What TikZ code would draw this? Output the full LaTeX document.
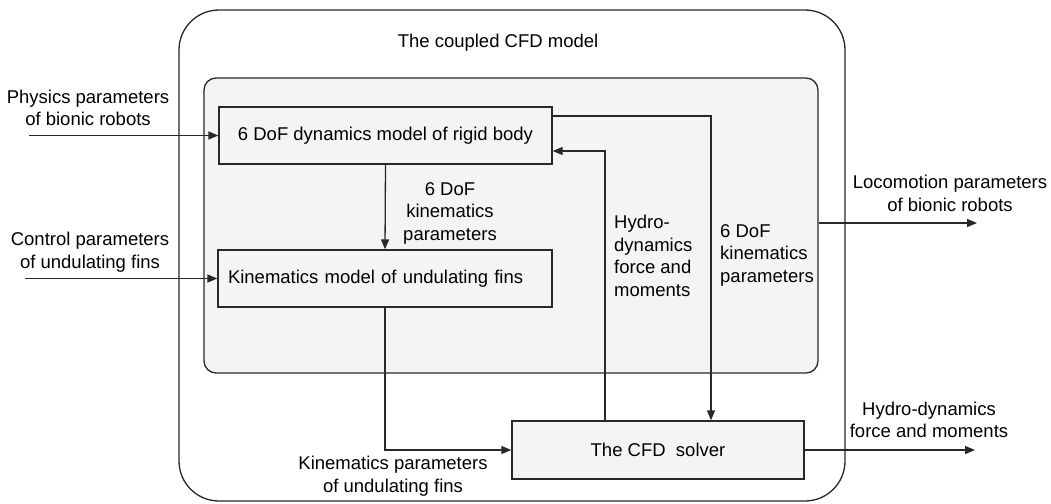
\documentclass[tikz,border=0pt]{standalone}
\usepackage{fontspec}
\setmainfont{Liberation Sans}
\usetikzlibrary{arrows.meta}
\definecolor{boxfill}{RGB}{244,244,244}
\definecolor{linec}{RGB}{40,40,40}
\begin{document}
\begin{tikzpicture}[x=1pt,y=-1pt,
  every node/.style={font=\fontsize{18.5}{22.5}\selectfont, inner sep=0pt},
  frame/.style={draw=linec, line width=1.3pt, rounded corners=40pt},
  group/.style={draw=linec, line width=1.3pt, fill=boxfill, rounded corners=12pt},
  block/.style={draw=linec, line width=1.3pt, fill=boxfill},
  lbl/.style={align=center},
  lbll/.style={align=left},
  arr/.style={draw=linec, line width=1.3pt, -{Triangle[length=10pt,width=8pt]}},
  ln/.style={draw=linec, line width=1.3pt}]
\useasboundingbox (0,0) rectangle (1051,503);
% outer frame and inner group
\node[frame, minimum width=666pt, minimum height=491pt] (outer) at (512,255.5) {};
\node[group, minimum width=614pt, minimum height=295pt] (inner) at (511,225.5) {};
\node (title) at (498,43) {The coupled CFD model};
% blocks
\node[block, minimum width=333pt, minimum height=57pt] (dyn) at (385.5,135.5) {6 DoF dynamics model of rigid body};
\node[block, text width=314pt, inner xsep=10pt, minimum height=57pt, align=left] (kin) at (385,278.5) {Kinematics model of undulating fins};
\node[block, minimum width=292pt, minimum height=58pt] (cfd) at (658,450) {The CFD\ \ solver};
% external labels
\node[lbl] (lphys) at (88,108) {Physics parameters\\ of bionic robots};
\node[lbl] (lctrl) at (90,252) {Control parameters\\ of undulating fins};
\node[lbl] (lk1) at (450,213) {6 DoF\\kinematics\\parameters};
\node[lbll, anchor=west] (lhyd) at (614,256) {Hydro-\\dynamics\\force and\\moments};
\node[lbll, anchor=west] (lk2) at (720,255) {6 DoF\\kinematics\\parameters};
\node[lbl] (lloc) at (950,193.5) {Locomotion parameters\\ of bionic robots};
\node[lbl] (lkp) at (393,476) {Kinematics parameters\\ of undulating fins};
\node[lbl] (lhout) at (929,420) {Hydro-dynamics\\force and moments};
% coordinates
\coordinate (physin) at (29,135.5);
\coordinate (ctrlin) at (25,278.5);
\coordinate (hx) at (605,151);
\coordinate (kx) at (711,116);
\coordinate (locend) at (977,223);
\coordinate (hend) at (975,450);
% connectors
\draw[arr] (physin) -- (dyn.west);
\draw[arr] (ctrlin) -- (kin.west);
\draw[arr] (dyn.south) -- (kin.north);
\draw[arr] (kin.south) |- (cfd.west);
\draw[arr] (hx |- cfd.north) -- (hx) -- (hx -| dyn.east);
\draw[arr] (kx -| dyn.east) -- (kx) -- (kx |- cfd.north);
\draw[arr] (locend -| inner.east) -- (locend);
\draw[arr] (cfd.east) -- (hend);
\end{tikzpicture}
\end{document}
